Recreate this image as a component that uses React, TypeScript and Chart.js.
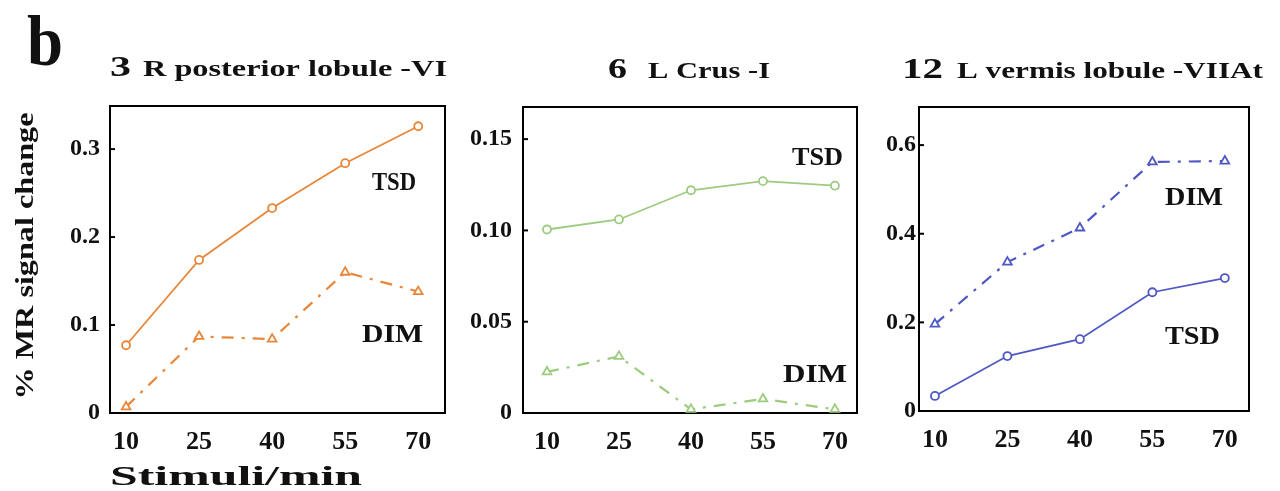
import React, { useEffect, useRef } from "react";
import { Chart, registerables } from "chart.js";

Chart.register(...registerables);

// ---------- DATA ----------
const stimuli = [10, 25, 40, 55, 70];

const p1Tsd = [0.077, 0.174, 0.233, 0.284, 0.326];
const p1Dim = [0.007, 0.087, 0.084, 0.16, 0.138];
const p1YTicks = [0, 0.1, 0.2, 0.3];
const p1YLabels = ["0", "0.1", "0.2", "0.3"];

const p2Tsd = [0.1005, 0.106, 0.122, 0.127, 0.1245];
const p2Dim = [0.0225, 0.031, 0.002, 0.0077, 0.002];
const p2YTicks = [0, 0.05, 0.1, 0.15];
const p2YLabels = ["0", "0.05", "0.10", "0.15"];

const p3Tsd = [0.034, 0.124, 0.162, 0.268, 0.3];
const p3Dim = [0.196, 0.336, 0.413, 0.562, 0.564];
const p3YTicks = [0, 0.2, 0.4, 0.6];
const p3YLabels = ["0", "0.2", "0.4", "0.6"];

const xTickLabels = ["10", "25", "40", "55", "70"];

// ---------- STYLE / LAYOUT ----------
const W = 1280;
const H = 491;
const SERIF = "'Liberation Serif', 'DejaVu Serif', serif";

type TextItem = {
  text: string;
  x: number;
  y: number;
  size: number;
  width: number;
  rotate?: boolean;
};

type Panel = {
  tsd: number[];
  dim: number[];
  yTicks: number[];
  yLabels: string[];
  color: string;
  area: { l: number; r: number; t: number; b: number };
  yMax: number;
  xMin: number;
  xMax: number;
  labelPad: number;
  texts: TextItem[];
};

const panels: Panel[] = [
  {
    tsd: p1Tsd,
    dim: p1Dim,
    yTicks: p1YTicks,
    yLabels: p1YLabels,
    color: "#E8873A",
    area: { l: 110, r: 445, t: 106, b: 413 },
    yMax: 0.349,
    xMin: 6.7,
    xMax: 75.5,
    labelPad: 10,
    texts: [
      { text: "b", x: 27, y: 65, size: 72, width: 36 },
      { text: "3", x: 110, y: 76, size: 30, width: 21 },
      { text: "R posterior lobule -VI", x: 143, y: 76, size: 24, width: 304 },
      { text: "% MR signal change", x: 27, y: 256, size: 25, width: 287, rotate: true },
      { text: "Stimuli/min", x: 110, y: 485, size: 27, width: 252 },
      { text: "TSD", x: 372, y: 190, size: 26, width: 44 },
      { text: "DIM", x: 362, y: 342, size: 26, width: 61 },
    ],
  },
  {
    tsd: p2Tsd,
    dim: p2Dim,
    yTicks: p2YTicks,
    yLabels: p2YLabels,
    color: "#9DCB80",
    area: { l: 523, r: 857, t: 107, b: 413 },
    yMax: 0.1676,
    xMin: 5.0,
    xMax: 74.6,
    labelPad: 11,
    texts: [
      { text: "6", x: 608, y: 78, size: 30, width: 19 },
      { text: "L Crus -I", x: 648, y: 78, size: 24, width: 122 },
      { text: "TSD", x: 792, y: 165, size: 26, width: 51 },
      { text: "DIM", x: 783, y: 382, size: 26, width: 64 },
    ],
  },
  {
    tsd: p3Tsd,
    dim: p3Dim,
    yTicks: p3YTicks,
    yLabels: p3YLabels,
    color: "#4F58C2",
    area: { l: 919, r: 1249, t: 107, b: 411 },
    yMax: 0.686,
    xMin: 6.7,
    xMax: 75.0,
    labelPad: 3,
    texts: [
      { text: "12", x: 902, y: 78, size: 30, width: 41 },
      { text: "L vermis lobule -VIIAt", x: 957, y: 78, size: 24, width: 306 },
      { text: "DIM", x: 1165, y: 205, size: 26, width: 58 },
      { text: "TSD", x: 1165, y: 344, size: 26, width: 55 },
    ],
  },
];

function drawFitText(ctx: CanvasRenderingContext2D, t: TextItem) {
  ctx.save();
  ctx.font = `bold ${t.size}px ${SERIF}`;
  ctx.fillStyle = "#111";
  ctx.textBaseline = "alphabetic";
  const w = ctx.measureText(t.text).width;
  const sx = t.width / w;
  if (t.rotate) {
    ctx.translate(t.x, t.y);
    ctx.rotate(-Math.PI / 2);
    ctx.scale(sx, 1);
    ctx.textAlign = "center";
    ctx.textBaseline = "middle";
    ctx.fillText(t.text, 0, 0);
  } else {
    ctx.translate(t.x, t.y);
    ctx.scale(sx, 1);
    ctx.textAlign = "left";
    ctx.fillText(t.text, 0, 0);
  }
  ctx.restore();
}

const decoPlugin = {
  id: "deco",
  beforeDatasetsDraw(chart: any, _args: any, opts: any) {
    const ctx: CanvasRenderingContext2D = chart.ctx;
    const a = chart.chartArea;
    ctx.save();
    ctx.strokeStyle = "#000";
    ctx.lineWidth = 2;
    ctx.strokeRect(a.left, a.top, a.right - a.left, a.bottom - a.top);
    const ys = chart.scales.y;
    for (const v of opts.yTicks as number[]) {
      const py = ys.getPixelForValue(v);
      ctx.beginPath();
      ctx.moveTo(a.left, py);
      ctx.lineTo(a.left + 5, py);
      ctx.stroke();
    }
    ctx.restore();
  },
  afterDraw(chart: any, _args: any, opts: any) {
    const ctx: CanvasRenderingContext2D = chart.ctx;
    for (const t of opts.texts as TextItem[]) drawFitText(ctx, t);
  },
};

function makeConfig(p: Panel): any {
  const yAxisW = 80;
  const xAxisH = H - p.area.b;
  return {
    type: "line",
    data: {
      datasets: [
        {
          label: "TSD",
          data: stimuli.map((s, i) => ({ x: s, y: p.tsd[i] })),
          borderColor: p.color,
          backgroundColor: "#fff",
          borderWidth: 1.8,
          pointStyle: "circle",
          pointRadius: 4,
          pointBorderWidth: 1.8,
          pointBorderColor: p.color,
          pointBackgroundColor: "#fff",
          clip: false,
          tension: 0,
        },
        {
          label: "DIM",
          data: stimuli.map((s, i) => ({ x: s, y: p.dim[i] })),
          borderColor: p.color,
          backgroundColor: "#fff",
          borderWidth: 2.2,
          borderDash: [12, 8, 3, 8],
          pointStyle: "triangle",
          pointRadius: 5,
          pointBorderWidth: 1.8,
          pointBorderColor: p.color,
          pointBackgroundColor: "#fff",
          clip: false,
          tension: 0,
        },
      ],
    },
    options: {
      animation: false,
      responsive: false,
      devicePixelRatio: 1,
      layout: {
        padding: { left: p.area.l - yAxisW, right: W - p.area.r, top: p.area.t, bottom: 0 },
      },
      plugins: {
        legend: { display: false },
        tooltip: { enabled: false },
        deco: { texts: p.texts, yTicks: p.yTicks },
      },
      scales: {
        x: {
          type: "linear",
          min: p.xMin,
          max: p.xMax,
          grid: { display: false, drawTicks: false },
          border: { display: false },
          afterBuildTicks: (scale: any) => {
            scale.ticks = stimuli.map((v) => ({ value: v }));
          },
          afterFit: (scale: any) => {
            scale.height = xAxisH;
          },
          ticks: {
            autoSkip: false,
            maxRotation: 0,
            padding: 14,
            color: "#111",
            font: { family: SERIF, size: 26, weight: "bold" },
            callback: (v: number) => {
              const i = stimuli.indexOf(v);
              return i >= 0 ? xTickLabels[i] : "";
            },
          },
        },
        y: {
          type: "linear",
          min: 0,
          max: p.yMax,
          grid: { display: false, drawTicks: false },
          border: { display: false },
          afterBuildTicks: (scale: any) => {
            scale.ticks = p.yTicks.map((v) => ({ value: v }));
          },
          afterFit: (scale: any) => {
            scale.width = yAxisW;
          },
          ticks: {
            autoSkip: false,
            padding: p.labelPad,
            color: "#111",
            font: { family: SERIF, size: 24, weight: "bold" },
            callback: (v: number) => {
              const i = p.yTicks.findIndex((t) => Math.abs(t - v) < 1e-9);
              return i >= 0 ? p.yLabels[i] : "";
            },
          },
        },
      },
    },
    plugins: [decoPlugin],
  };
}

function PanelCanvas({ panel }: { panel: Panel }) {
  const ref = useRef<HTMLCanvasElement | null>(null);
  useEffect(() => {
    if (!ref.current) return;
    const chart = new Chart(ref.current, makeConfig(panel));
    return () => chart.destroy();
  }, [panel]);
  return (
    <canvas
      ref={ref}
      width={W}
      height={H}
      style={{ position: "absolute", left: 0, top: 0, width: W, height: H }}
    />
  );
}

export default function App() {
  return (
    <div
      style={{
        position: "absolute",
        left: 0,
        top: 0,
        width: W,
        height: H,
        background: "#fff",
        overflow: "hidden",
      }}
    >
      {panels.map((p, i) => (
        <PanelCanvas key={i} panel={p} />
      ))}
    </div>
  );
}
